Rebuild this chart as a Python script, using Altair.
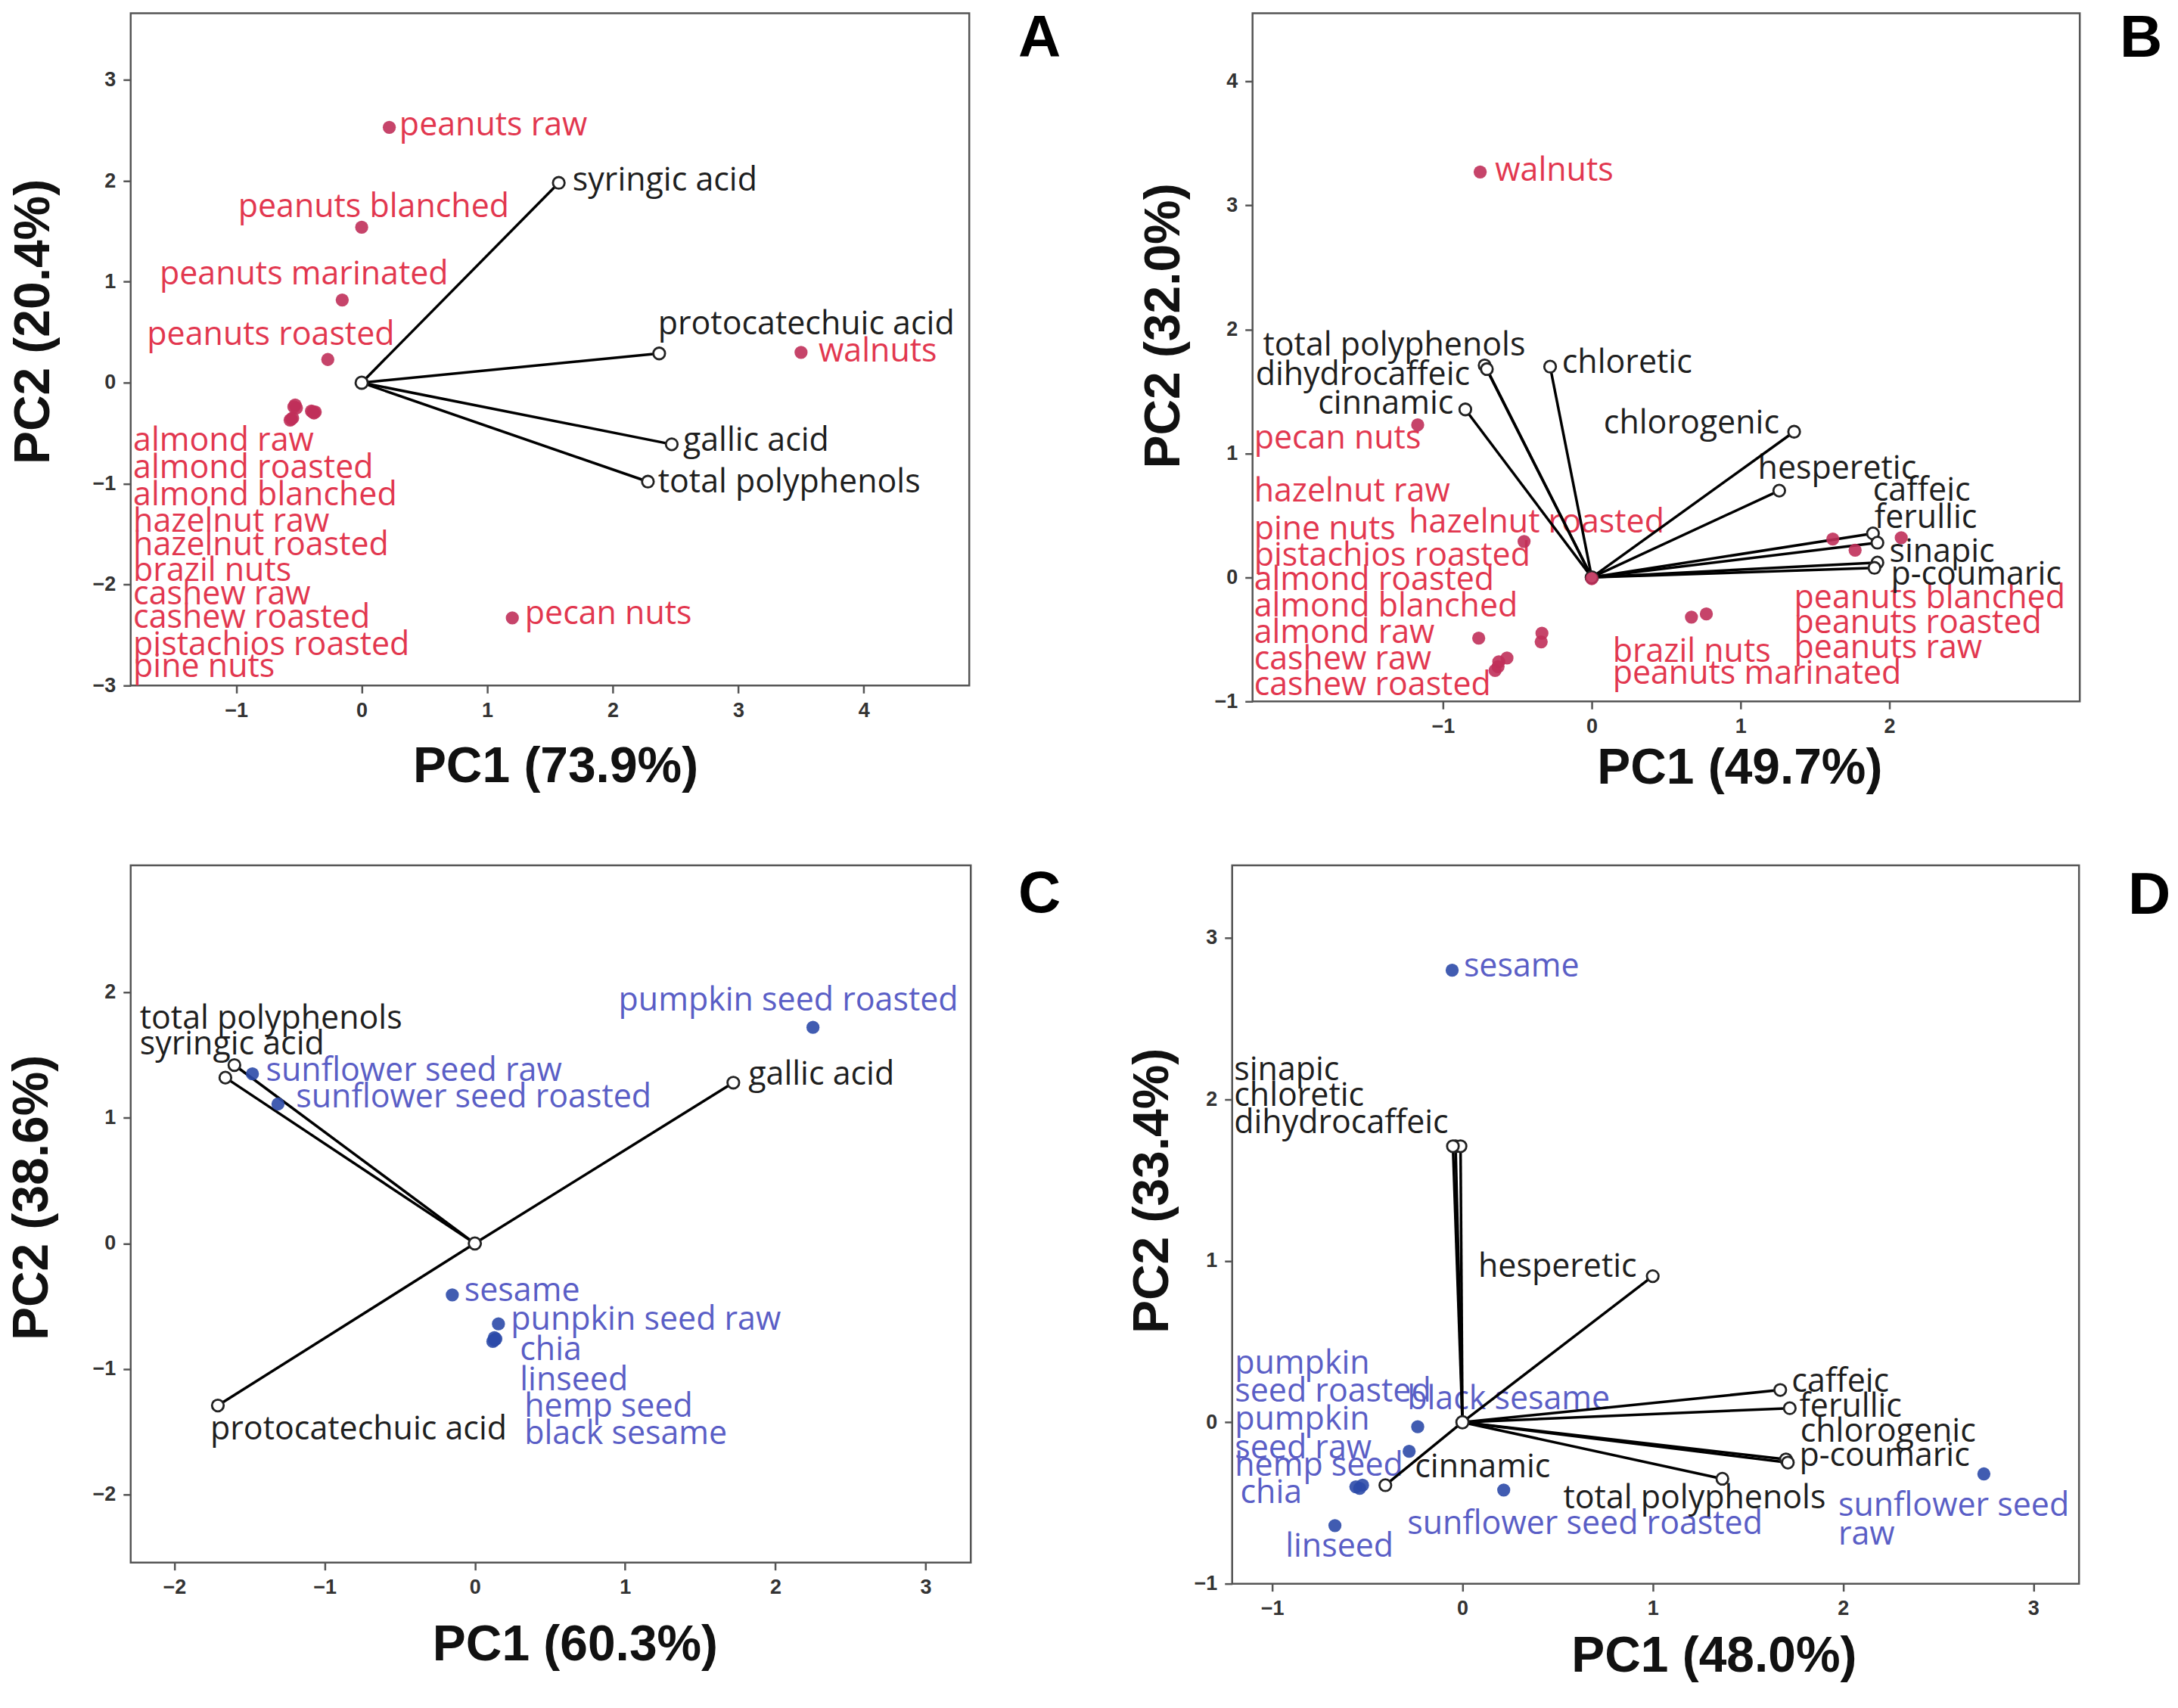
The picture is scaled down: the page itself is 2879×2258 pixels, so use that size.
import altair as alt
import pandas as pd

# ---------------- Panel A (nuts, phenolic acids) ----------------
A_score_names = ["peanuts raw", "peanuts blanched", "peanuts marinated", "peanuts roasted",
                 "almond raw", "almond roasted", "almond blanched", "hazelnut raw",
                 "hazelnut roasted", "brazil nuts", "cashew raw", "cashew roasted",
                 "pistachios roasted", "pine nuts", "walnuts", "pecan nuts"]
A_score_pc1 = [0.22, 0.00, -0.155, -0.27, -0.53, -0.52, -0.40, -0.38, -0.37, -0.56, -0.55, -0.57,
               -0.54, -0.39, 3.50, 1.20]
A_score_pc2 = [2.53, 1.54, 0.82, 0.23, -0.22, -0.25, -0.28, -0.30, -0.29, -0.36, -0.35, -0.37,
               -0.24, -0.29, 0.30, -2.33]
A_score_lab_x = [0.30, -0.985, -1.61, -1.71, -1.82, -1.82, -1.82, -1.82, -1.82, -1.82, -1.82, -1.82,
                 -1.82, -1.82, 3.64, 1.30]
A_score_lab_y = [2.55, 1.74, 1.07, 0.47, -0.58, -0.85, -1.12, -1.38, -1.61, -1.87, -2.10, -2.33,
                 -2.60, -2.82, 0.31, -2.29]
A_load_names = ["syringic acid", "protocatechuic acid", "gallic acid", "total polyphenols"]
A_load_pc1 = [1.57, 2.37, 2.47, 2.28]
A_load_pc2 = [1.98, 0.29, -0.61, -0.98]
A_load_lab_x = [1.68, 2.36, 2.56, 2.36]
A_load_lab_y = [2.00, 0.58, -0.58, -0.99]

# ---------------- Panel B (nuts, polyphenols) ----------------
B_score_names = ["walnuts", "pecan nuts", "hazelnut raw", "hazelnut roasted", "pine nuts",
                 "pistachios roasted", "almond roasted", "almond blanched", "almond raw",
                 "cashew raw", "cashew roasted", "brazil nuts", "peanuts marinated",
                 "peanuts blanched", "peanuts roasted", "peanuts raw"]
B_score_pc1 = [-0.75, -1.17, 0.00, -0.455, -0.34, -0.335, -0.76, -0.625, -0.57, -0.65, -0.63,
               0.67, 0.77, 1.62, 1.77, 2.08]
B_score_pc2 = [3.27, 1.23, -0.01, 0.29, -0.52, -0.45, -0.49, -0.68, -0.65, -0.75, -0.72,
               -0.32, -0.295, 0.31, 0.22, 0.32]
B_score_lab_x = [-0.65, -2.27, -2.27, -1.23, -2.27, -2.27, -2.27, -2.27, -2.27, -2.27, -2.27,
                 0.14, 0.14, 1.36, 1.36, 1.36]
B_score_lab_y = [3.28, 1.12, 0.69, 0.44, 0.385, 0.17, -0.02, -0.235, -0.45, -0.66, -0.87,
                 -0.60, -0.78, -0.17, -0.37, -0.57]
B_load_names = ["total polyphenols", "dihydrocaffeic", "cinnamic", "chloretic", "chlorogenic",
                "hesperetic", "caffeic", "ferullic", "sinapic", "p-coumaric"]
B_load_pc1 = [-0.72, -0.705, -0.85, -0.28, 1.36, 1.26, 1.89, 1.92, 1.92, 1.90]
B_load_pc2 = [1.71, 1.68, 1.355, 1.70, 1.175, 0.70, 0.355, 0.28, 0.12, 0.077]
B_load_lab_x = [-2.21, -2.26, -1.84, -0.20, 0.08, 1.116, 1.89, 1.90, 2.00, 2.01]
B_load_lab_y = [1.87, 1.63, 1.40, 1.73, 1.24, 0.876, 0.70, 0.48, 0.205, 0.02]

# ---------------- Panel C (seeds, phenolic acids) ----------------
C_score_names = ["pumpkin seed roasted", "sunflower seed raw", "sunflower seed roasted", "sesame",
                 "punpkin seed raw", "chia", "linseed", "hemp seed", "black sesame"]
C_score_pc1 = [2.25, -1.48, -1.31, -0.15, 0.157, 0.13, 0.12, 0.14, 0.13]
C_score_pc2 = [1.72, 1.35, 1.11, -0.41, -0.64, -0.77, -0.78, -0.76, -0.75]
C_score_lab_x = [0.956, -1.39, -1.19, -0.07, 0.24, 0.30, 0.30, 0.33, 0.33]
C_score_lab_y = [1.93, 1.37, 1.16, -0.38, -0.61, -0.85, -1.09, -1.30, -1.52]
C_load_names = ["total polyphenols", "syringic acid", "gallic acid", "protocatechuic acid"]
C_load_pc1 = [-1.60, -1.66, 1.72, -1.71]
C_load_pc2 = [1.42, 1.32, 1.28, -1.29]
C_load_lab_x = [-2.23, -2.23, 1.82, -1.76]
C_load_lab_y = [1.79, 1.58, 1.34, -1.48]

# ---------------- Panel D (seeds, polyphenols) ----------------
D_score_names = ["sesame", "pumpkin\nseed roasted", "pumpkin\nseed raw", "hemp seed", "chia",
                 "black sesame", "linseed", "sunflower seed roasted", "sunflower seed\nraw"]
D_score_pc1 = [-0.054, -0.56, -0.28, -0.525, -0.54, -0.235, -0.67, 0.217, 2.74]
D_score_pc2 = [2.80, -0.40, -0.18, -0.39, -0.41, -0.028, -0.64, -0.42, -0.32]
D_score_lab_x = [0.007, -1.196, -1.196, -1.196, -1.167, -0.29, -0.93, -0.29, 1.975]
D_score_lab_y = [2.82, 0.364, 0.015, -0.27, -0.44, 0.14, -0.77, -0.63, -0.5175]
D_load_names = ["sinapic", "chloretic", "dihydrocaffeic", "hesperetic", "caffeic", "ferullic",
                "chlorogenic", "p-coumaric", "total polyphenols", "cinnamic"]
D_load_pc1 = [-0.036, -0.01, -0.05, 1.00, 1.67, 1.72, 1.70, 1.71, 1.366, -0.405]
D_load_pc2 = [1.71, 1.71, 1.71, 0.905, 0.20, 0.087, -0.23, -0.25, -0.35, -0.39]
D_load_lab_x = [-1.20, -1.20, -1.20, 0.083, 1.73, 1.77, 1.775, 1.77, 0.53, -0.25]
D_load_lab_y = [2.18, 2.02, 1.85, 0.96, 0.25, 0.097, -0.06, -0.21, -0.47, -0.28]

RED_TXT, RED_PT = "#e2374f", "#c0305a"
BLUE_TXT, BLUE_PT = "#5a5ec6", "#2c4aa8"
LABEL_FONT = "Open Sans"
TITLE_FONT = "Liberation Sans"


def panel(sn, sx, sy, slx, sly, ln, lx, ly, llx, lly, xdom, ydom, xticks, yticks,
          xtitle, ytitle, W, H, pt_color, txt_color, letter,
          xt_dx, xt_dy, yt_dx, yt_dy, let_dx, let_dy):
    scores = pd.DataFrame({"name": sn, "pc1": sx, "pc2": sy, "lx": slx, "ly": sly})
    loads = pd.DataFrame({"name": ln, "pc1": lx, "pc2": ly, "lx": llx, "ly": lly})
    loads["x0"] = 0.0
    loads["y0"] = 0.0
    origin = pd.DataFrame({"x0": [0.0], "y0": [0.0]})
    xs = alt.Scale(domain=xdom, nice=False, zero=False)
    ys = alt.Scale(domain=ydom, nice=False, zero=False)
    xaxis = alt.Axis(values=xticks, title=xtitle, titleX=W / 2 + xt_dx, titleY=xt_dy,
                     titleAlign="center", titleBaseline="middle", format="d")
    yaxis = alt.Axis(values=yticks, title=ytitle, titleX=yt_dx, titleY=H / 2 + yt_dy,
                     titleAngle=270, titleAlign="center", titleBaseline="middle", format="d")

    def X(f):
        return alt.X(f, scale=xs, axis=xaxis)

    def Y(f):
        return alt.Y(f, scale=ys, axis=yaxis)

    score_text = alt.Chart(scores).mark_text(
        align="left", baseline="middle", font=LABEL_FONT, fontSize=43, color=txt_color,
        lineBreak="\n", lineHeight=38
    ).encode(x=X("lx:Q"), y=Y("ly:Q"), text="name:N")
    load_text = alt.Chart(loads).mark_text(
        align="left", baseline="middle", font=LABEL_FONT, fontSize=43, color="#1e1e1e"
    ).encode(x=X("lx:Q"), y=Y("ly:Q"), text="name:N")
    rules = alt.Chart(loads).mark_rule(color="#000000", strokeWidth=3.5).encode(
        x=X("x0:Q"), y=Y("y0:Q"), x2="pc1:Q", y2="pc2:Q")
    ends = alt.Chart(loads).mark_point(
        shape="circle", filled=True, fill="white", stroke="#222222", strokeWidth=2.8,
        size=240, opacity=1).encode(x=X("pc1:Q"), y=Y("pc2:Q"))
    orig = alt.Chart(origin).mark_point(
        shape="circle", filled=True, fill="white", stroke="#222222", strokeWidth=2.8,
        size=260, opacity=1).encode(x=X("x0:Q"), y=Y("y0:Q"))
    pts = alt.Chart(scores).mark_circle(size=300, color=pt_color, opacity=0.9).encode(
        x=X("pc1:Q"), y=Y("pc2:Q"))
    let = alt.Chart(pd.DataFrame({"t": [letter]})).mark_text(
        font=TITLE_FONT, fontSize=78, fontWeight="bold", align="center", baseline="top",
        color="#000000"
    ).encode(x=alt.value(W + let_dx), y=alt.value(let_dy), text="t:N")
    return alt.layer(score_text, load_text, rules, orig, ends, pts, let).properties(
        width=W, height=H)


pA = panel(A_score_names, A_score_pc1, A_score_pc2, A_score_lab_x, A_score_lab_y,
           A_load_names, A_load_pc1, A_load_pc2, A_load_lab_x, A_load_lab_y,
           [-1.84, 4.84], [-3.0, 3.66], [-1, 0, 1, 2, 3, 4], [-3, -2, -1, 0, 1, 2, 3],
           "PC1 (73.9%)", "PC2 (20.4%)", 1110, 890, RED_PT, RED_TXT, "A",
           7, 107, -128, -37, 93, -4)
pB = panel(B_score_names, B_score_pc1, B_score_pc2, B_score_lab_x, B_score_lab_y,
           B_load_names, B_load_pc1, B_load_pc2, B_load_lab_x, B_load_lab_y,
           [-2.28, 3.28], [-1.0, 4.55], [-1, 0, 1, 2], [-1, 0, 1, 2, 3, 4],
           "PC1 (49.7%)", "PC2 (32.0%)", 1095, 911, RED_PT, RED_TXT, "B",
           97, 88, -117, -42, 81, -4)
pC = panel(C_score_names, C_score_pc1, C_score_pc2, C_score_lab_x, C_score_lab_y,
           C_load_names, C_load_pc1, C_load_pc2, C_load_lab_x, C_load_lab_y,
           [-2.29, 3.30], [-2.54, 3.01], [-2, -1, 0, 1, 2, 3], [-2, -1, 0, 1, 2],
           "PC1 (60.3%)", "PC2 (38.6%)", 1112, 923, BLUE_PT, BLUE_TXT, "C",
           32, 109, -130, -22, 91, 0)
pD = panel(D_score_names, D_score_pc1, D_score_pc2, D_score_lab_x, D_score_lab_y,
           D_load_names, D_load_pc1, D_load_pc2, D_load_lab_x, D_load_lab_y,
           [-1.21, 3.24], [-1.0, 3.45], [-1, 0, 1, 2, 3], [-1, 0, 1, 2, 3],
           "PC1 (48.0%)", "PC2 (33.4%)", 1121, 951, BLUE_PT, BLUE_TXT, "D",
           77, 96, -105, -45, 93, 2)

row1 = alt.hconcat(pA, pB, spacing=375, bounds="flush")
row2 = alt.hconcat(pC, pD, spacing=346, bounds="flush")

chart = alt.vconcat(row1, row2, spacing=92).properties(
    padding={"left": 0, "top": 2, "right": 0, "bottom": 0}
).configure_view(
    stroke="#555555", strokeWidth=2.5
).configure_axis(
    domain=False, grid=False, ticks=True, tickSize=10, tickWidth=2.5, tickColor="#555555",
    labelFont=TITLE_FONT, labelFontSize=27, labelColor="#333333", labelFontWeight="bold",
    labelPadding=10, labelFlush=False, labelOverlap=False,
    titleFont=TITLE_FONT, titleFontSize=66, titleFontWeight="bold", titleColor="#111111"
)

chart.save("out.html", embed_options={"renderer": "svg", "actions": False})
